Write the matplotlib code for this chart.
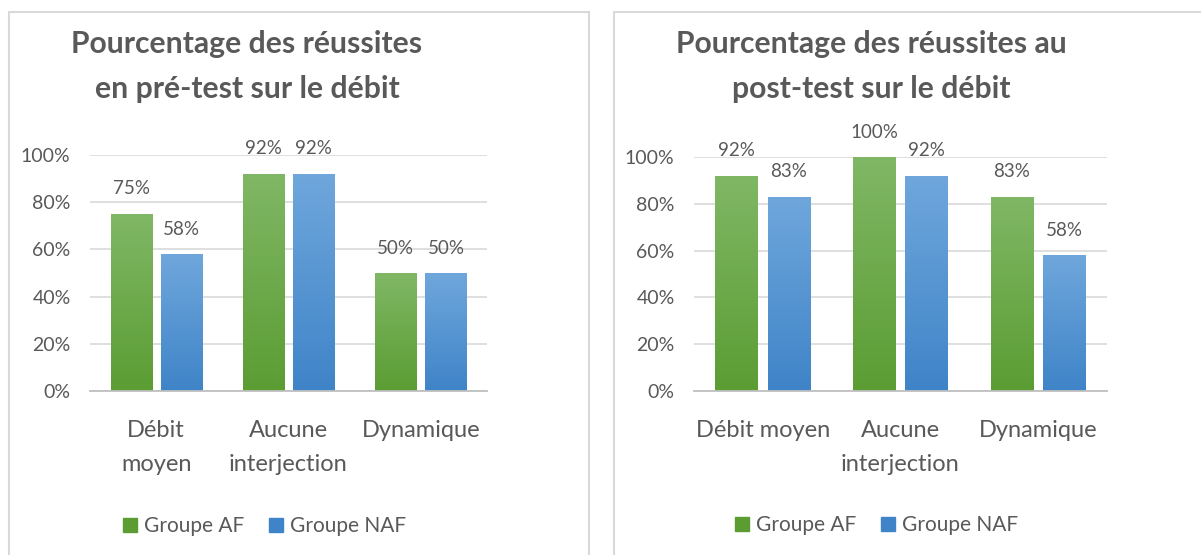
import matplotlib
matplotlib.use("Agg")
import matplotlib.pyplot as plt
import numpy as np
from matplotlib.patches import Rectangle
from matplotlib.colors import LinearSegmentedColormap
from matplotlib.ticker import PercentFormatter

plt.rcParams['font.family'] = ['Lato', 'DejaVu Sans']

categories_pre = ["Débit\nmoyen", "Aucune\ninterjection", "Dynamique"]
categories_post = ["Débit moyen", "Aucune\ninterjection", "Dynamique"]
series_names = ["Groupe AF", "Groupe NAF"]
pre_af = [0.75, 0.92, 0.50]
pre_naf = [0.58, 0.92, 0.50]
post_af = [0.92, 1.00, 0.83]
post_naf = [0.83, 0.92, 0.58]
yticks = [0, 0.2, 0.4, 0.6, 0.8, 1.0]

title_pre = ["Pourcentage des réussites", "en pré-test sur le débit"]
title_post = ["Pourcentage des réussites au", "post-test sur le débit"]

TXT = "#595959"
GREEN = ("#80b765", "#5b9d33")
BLUE = ("#6fa7dc", "#3f84c8")

W, H = 1201, 555
fig = plt.figure(figsize=(W / 100, H / 100), dpi=100)

# panel borders
for (x0, x1) in [(9, 589), (614, 1210)]:
    fig.patches.append(Rectangle((x0 / W, -0.05), (x1 - x0) / W, 1.05 - 12 / H,
                                 transform=fig.transFigure, fill=False,
                                 edgecolor="#d9d9d9", linewidth=1.5))


def grad_bars(ax, xs, vals, width, colors):
    cmap = LinearSegmentedColormap.from_list("g", [colors[1], colors[0]])
    bars = ax.bar(xs, vals, width, color=colors[1], zorder=2)
    grad = np.linspace(0, 1, 256).reshape(-1, 1)
    for b in bars:
        b.set_facecolor("none")
        x, y = b.get_x(), b.get_y()
        w, h = b.get_width(), b.get_height()
        im = ax.imshow(grad, cmap=cmap, aspect="auto", origin="lower",
                       extent=(x, x + w, y, y + h), zorder=2)
        im.set_clip_path(b)
    return bars


def make(ax_rect, cats, af, naf, title, title_x, legend_x):
    ax = fig.add_axes(ax_rect)
    x = np.arange(len(cats))
    width = 0.31
    off = 0.19
    grad_bars(ax, x - off, af, width, GREEN)
    grad_bars(ax, x + off, naf, width, BLUE)
    for xs, vals in [(x - off, af), (x + off, naf)]:
        for xi, v in zip(xs, vals):
            ax.annotate(f"{round(v * 100):d}%", (xi, v), xytext=(0, 18),
                        textcoords="offset points", ha="center", va="center",
                        fontsize=13.5, color=TXT, annotation_clip=False)
    ax.set_xlim(-0.5, len(cats) - 0.5)
    ax.set_ylim(0, 1.0)
    ax.set_yticks(yticks)
    ax.yaxis.set_major_formatter(PercentFormatter(1.0, decimals=0))
    ax.set_xticks(x)
    ax.set_xticklabels(cats, fontsize=17, color=TXT, linespacing=1.75)
    ax.tick_params(axis="y", labelsize=14, labelcolor=TXT, length=0, pad=14)
    ax.tick_params(axis="x", length=0, pad=21)
    ax.grid(axis="y", color="#d9d9d9", linewidth=1.2, zorder=0)
    ax.set_axisbelow(True)
    for s in ["top", "right", "left"]:
        ax.spines[s].set_visible(False)
    ax.spines["bottom"].set_color("#bfbfbf")
    ax.spines["bottom"].set_linewidth(1.3)
    ax.spines["bottom"].set_zorder(3)
    for line, yb in zip(title, [53, 98]):
        fig.text(title_x / W, 1 - yb / H, line, ha="center", va="baseline",
                 fontsize=21.7, fontweight="bold", color=TXT)
    handles = [Rectangle((0, 0), 1, 1, color=GREEN[1]),
               Rectangle((0, 0), 1, 1, color=BLUE[1])]
    ax.legend(handles, series_names, loc="center", ncol=2,
              bbox_to_anchor=(legend_x, -0.573), frameon=False,
              fontsize=15, labelcolor=TXT, handlelength=0.65, handleheight=0.65,
              handletextpad=0.35, columnspacing=1.2)
    return ax


make([90 / W, 1 - 391 / H, 397 / W, 236 / H], categories_pre, pre_af, pre_naf,
     title_pre, 247, 0.44)
make([694 / W, 1 - 391 / H, 413 / W, 234 / H], categories_post, post_af, post_naf,
     title_post, 871.5, 0.442)

fig.savefig("out.png", dpi=100, facecolor="white")
